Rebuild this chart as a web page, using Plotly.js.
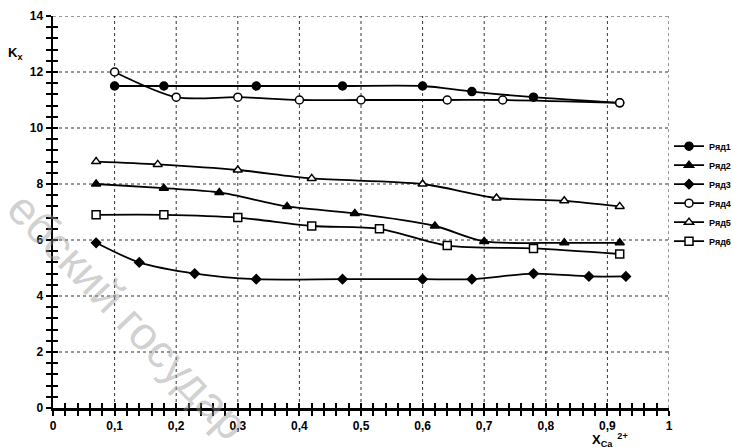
<!DOCTYPE html>
<html>
<head>
<meta charset="utf-8">
<script src="https://cdn.plot.ly/plotly-3.0.1.min.js"></script>
<style>html,body{margin:0;padding:0;background:#fff;}#chart{width:732px;height:447px;}</style>
</head>
<body>
<div id="chart"></div>
<script>
// Data
const seriesNames = ['Ряд1', 'Ряд2', 'Ряд3', 'Ряд4', 'Ряд5', 'Ряд6'];

const x1 = [0.10, 0.18, 0.33, 0.47, 0.60, 0.68, 0.78, 0.92];
const y1 = [11.5, 11.5, 11.5, 11.5, 11.5, 11.3, 11.1, 10.9];

const x2 = [0.07, 0.18, 0.27, 0.38, 0.49, 0.62, 0.70, 0.83, 0.92];
const y2 = [8.0, 7.85, 7.7, 7.2, 6.95, 6.5, 5.95, 5.9, 5.9];

const x3 = [0.07, 0.14, 0.23, 0.33, 0.47, 0.60, 0.68, 0.78, 0.87, 0.93];
const y3 = [5.9, 5.2, 4.8, 4.6, 4.6, 4.6, 4.6, 4.8, 4.7, 4.7];

const x4 = [0.10, 0.20, 0.30, 0.40, 0.50, 0.64, 0.73, 0.92];
const y4 = [12.0, 11.1, 11.1, 11.0, 11.0, 11.0, 11.0, 10.9];

const x5 = [0.07, 0.17, 0.30, 0.42, 0.60, 0.72, 0.83, 0.92];
const y5 = [8.8, 8.7, 8.5, 8.2, 8.0, 7.5, 7.4, 7.2];

const x6 = [0.07, 0.18, 0.30, 0.42, 0.53, 0.64, 0.78, 0.92];
const y6 = [6.9, 6.9, 6.8, 6.5, 6.4, 5.8, 5.7, 5.5];

// grid / tick positions and labels (labels produced by linear ticks with ',' as decimal separator)
const xGridVals = [0.1, 0.2, 0.3, 0.4, 0.5, 0.6, 0.7, 0.8, 0.9, 1];
const yGridVals = [2, 4, 6, 8, 10, 12, 14];
const xTickText = ['0', '0,1', '0,2', '0,3', '0,4', '0,5', '0,6', '0,7', '0,8', '0,9', '1'];
const yTickText = ['0', '2', '4', '6', '8', '10', '12', '14'];

const xs = [x1, x2, x3, x4, x5, x6];
const ys = [y1, y2, y3, y4, y5, y6];
const symbols = ['circle', 'triangle-up', 'diamond', 'circle', 'triangle-up', 'square'];
const fills = ['#000', '#000', '#000', '#fff', '#fff', '#fff'];
const sizes = [8, 8, 7, 8, 8, 8];

const traces = seriesNames.map((n, i) => ({
  type: 'scatter', mode: 'lines+markers', name: n,
  x: xs[i], y: ys[i],
  line: {color: '#000', width: 1.8, shape: 'spline', smoothing: 0.8},
  marker: {symbol: symbols[i], size: sizes[i], color: fills[i], line: {color: '#000', width: 1.5}}
}));
// empty helper traces so the inner-tick overlay axes are drawn (ticks cross the axis lines)
traces.push({type: 'scatter', x: [], y: [], xaxis: 'x2', yaxis: 'y', showlegend: false, hoverinfo: 'skip'});
traces.push({type: 'scatter', x: [], y: [], xaxis: 'x', yaxis: 'y2', showlegend: false, hoverinfo: 'skip'});

const tickFont = {family: 'Liberation Sans, Arial, sans-serif', size: 12, color: '#000', weight: 'bold'};
const gridLine = {color: '#333', width: 1, dash: 'dot'};

const shapes = [];
xGridVals.forEach(v => shapes.push({type: 'line', xref: 'x', yref: 'paper', x0: v, x1: v, y0: 0, y1: 1, line: gridLine, layer: 'below'}));
yGridVals.forEach(v => shapes.push({type: 'line', xref: 'paper', yref: 'y', x0: 0, x1: 1, y0: v, y1: v, line: gridLine, layer: 'below'}));

const layout = {
  width: 732, height: 447,
  margin: {l: 53, r: 63, t: 16, b: 39, autoexpand: false},
  paper_bgcolor: '#fff', plot_bgcolor: '#fff',
  separators: ', ',
  showlegend: true,
  legend: {
    x: 1.0, xanchor: 'left', y: 0.705, yanchor: 'top',
    font: {family: 'Liberation Sans, Arial, sans-serif', size: 9, color: '#000', weight: 'bold'},
    bgcolor: 'rgba(0,0,0,0)', tracegroupgap: 0, itemwidth: 30
  },
  xaxis: {
    range: [0, 1], tickmode: 'linear', tick0: 0, dtick: 0.1,
    showline: true, linecolor: '#000', linewidth: 2.5,
    ticks: 'outside', ticklen: 5, tickwidth: 2, tickcolor: '#000',
    minor: {dtick: 0.02, ticks: 'outside', ticklen: 5, tickwidth: 2, tickcolor: '#000', showgrid: false},
    showgrid: false, zeroline: false, tickfont: tickFont
  },
  yaxis: {
    range: [0, 14], tickmode: 'linear', tick0: 0, dtick: 2,
    showline: true, linecolor: '#000', linewidth: 2.5,
    ticks: 'outside', ticklen: 5, tickwidth: 2, tickcolor: '#000',
    minor: {dtick: 0.4, ticks: 'outside', ticklen: 5, tickwidth: 2, tickcolor: '#000', showgrid: false},
    showgrid: false, zeroline: false, tickfont: tickFont
  },
  xaxis2: {
    overlaying: 'x', anchor: 'y', side: 'bottom', range: [0, 1],
    tickmode: 'linear', tick0: 0, dtick: 0.1,
    showticklabels: false, showgrid: false, zeroline: false, showline: false,
    ticks: 'inside', ticklen: 5, tickwidth: 2, tickcolor: '#000',
    minor: {dtick: 0.02, ticks: 'inside', ticklen: 5, tickwidth: 2, tickcolor: '#000', showgrid: false}
  },
  yaxis2: {
    overlaying: 'y', anchor: 'x', side: 'left', range: [0, 14],
    tickmode: 'linear', tick0: 0, dtick: 2,
    showticklabels: false, showgrid: false, zeroline: false, showline: false,
    ticks: 'inside', ticklen: 5, tickwidth: 2, tickcolor: '#000',
    minor: {dtick: 0.4, ticks: 'inside', ticklen: 5, tickwidth: 2, tickcolor: '#000', showgrid: false}
  },
  shapes: shapes,
  annotations: [
    {xref: 'paper', yref: 'paper', x: -0.062, y: 0.905, xanchor: 'center', yanchor: 'middle',
     text: 'K<sub>x</sub>', showarrow: false,
     font: {family: 'Liberation Sans, Arial, sans-serif', size: 13, color: '#000', weight: 'bold'}},
    {xref: 'paper', yref: 'paper', x: 0.905, y: -0.082, xanchor: 'center', yanchor: 'middle',
     text: 'X<sub>Ca</sub><sup>  2+</sup>', showarrow: false,
     font: {family: 'Liberation Sans, Arial, sans-serif', size: 13, color: '#000', weight: 'bold'}},
    {xref: 'paper', yref: 'paper', x: 0.122, y: 0.235, xanchor: 'center', yanchor: 'middle',
     text: 'ебский государ', showarrow: false, textangle: 46,
     font: {family: 'Liberation Sans, Arial, sans-serif', size: 46, color: 'rgba(150,150,150,0.45)'}}
  ]
};

Plotly.newPlot('chart', traces, layout, {displayModeBar: false, staticPlot: true});
</script>
</body>
</html>
